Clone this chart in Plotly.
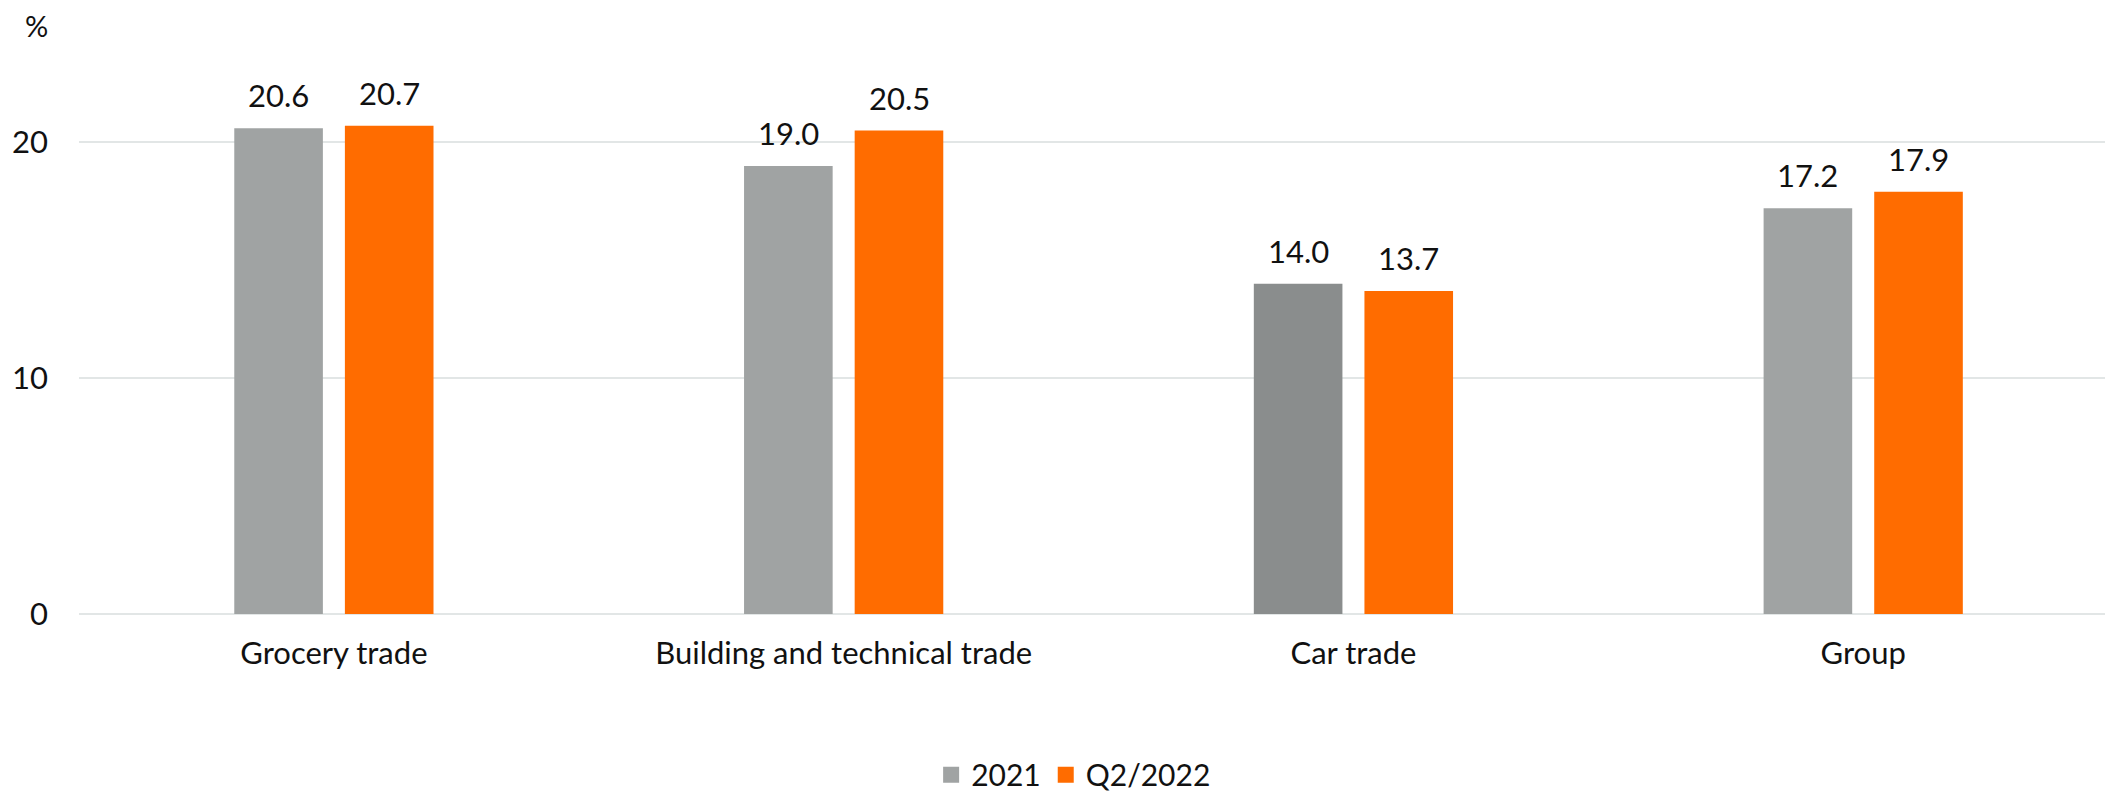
import plotly.graph_objects as go


# =========================
# DATA
# =========================
categories = ["Grocery trade", "Building and technical trade", "Car trade", "Group"]
values_2021 = [20.6, 19.0, 14.0, 17.2]
values_q2_2022 = [20.7, 20.5, 13.7, 17.9]
series_names = ["2021", "Q2/2022"]
y_ticks = [0, 10, 20]

# styles
GREY = "#a0a3a3"
DARK_GREY = "#8a8d8d"
ORANGE = "#ff6c00"
colors_2021 = [GREY, GREY, DARK_GREY, GREY]
FONT = "Lato"
TEXT = "#111111"
FS = 31


fig = go.Figure()

fig.add_trace(go.Bar(
    x=categories,
    y=values_2021,
    name=series_names[0],
    marker=dict(color=colors_2021, line_width=0),
    showlegend=False,
))

fig.add_trace(go.Bar(
    x=categories,
    y=values_q2_2022,
    name=series_names[1],
    marker=dict(color=ORANGE, line_width=0),
    showlegend=False,
))

# legend-only entries so the swatches can be larger
for name, col in zip(series_names, [GREY, ORANGE]):
    fig.add_trace(go.Scatter(
        x=[None], y=[None],
        mode="markers",
        name=name,
        marker=dict(symbol="square", size=17, color=col),
    ))

# value labels above the bars
for cat, v1, v2 in zip(categories, values_2021, values_q2_2022):
    for v, dx in [(v1, -55.4), (v2, 55.4)]:
        fig.add_annotation(
            x=cat, y=v,
            text=f"{v:.1f}",
            showarrow=False,
            xshift=dx, yshift=12,
            yanchor="bottom",
            font=dict(family=FONT, size=FS, color=TEXT),
        )

# unit label
fig.add_annotation(
    xref="paper", yref="paper",
    x=-0.021, y=1.039,
    text="%",
    showarrow=False,
    xanchor="center", yanchor="middle",
    font=dict(family=FONT, size=29, color=TEXT),
)

# the page body has an 8px margin, so the figure is sized to fit the window
fig.update_layout(
    width=2105,
    height=790,
    margin=dict(l=71, r=0, t=40, b=184, autoexpand=False),
    paper_bgcolor="white",
    plot_bgcolor="white",
    barmode="group",
    bargap=0.566,
    bargroupgap=0.199,
    font=dict(family=FONT, size=FS, color=TEXT),
    legend=dict(
        orientation="h",
        x=0.489, xanchor="center",
        y=-0.284, yanchor="middle",
        font=dict(family=FONT, size=30, color=TEXT),
        itemwidth=30,
        bgcolor="rgba(0,0,0,0)",
    ),
    xaxis=dict(
        range=[-0.5, 3.49],
        automargin=False,
        showgrid=False,
        showline=False,
        ticks="",
        ticklabelstandoff=18,
        tickfont=dict(family=FONT, size=FS, color=TEXT),
    ),
    yaxis=dict(
        range=[0, 24],
        automargin=False,
        tickvals=y_ticks,
        showgrid=True,
        gridcolor="#e2e6e6",
        gridwidth=2,
        zeroline=True,
        zerolinecolor="#e2e6e6",
        zerolinewidth=2,
        showline=False,
        ticks="",
        ticklabelstandoff=30,
        tickfont=dict(family=FONT, size=FS, color=TEXT),
    ),
)

fig.write_html("out.html")
